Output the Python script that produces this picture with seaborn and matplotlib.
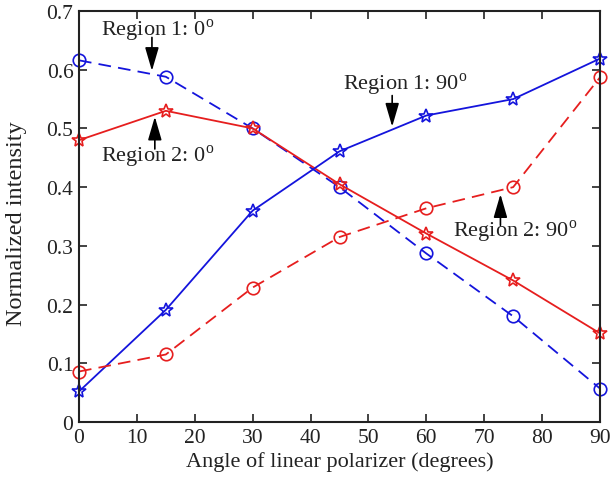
import matplotlib
matplotlib.use("Agg")
import matplotlib.pyplot as plt
import seaborn as sns
import pandas as pd

angles = [0, 15, 30, 45, 60, 75, 90]
region1_0 = [0.616, 0.588, 0.500, 0.400, 0.287, 0.180, 0.057]
region1_90 = [0.052, 0.191, 0.360, 0.461, 0.522, 0.550, 0.619]
region2_0 = [0.480, 0.530, 0.500, 0.405, 0.321, 0.241, 0.151]
region2_90 = [0.086, 0.115, 0.229, 0.315, 0.364, 0.400, 0.587]

xticks = [0, 10, 20, 30, 40, 50, 60, 70, 80, 90]
yticks = [0, 0.1, 0.2, 0.3, 0.4, 0.5, 0.6, 0.7]
ytick_labels = ["0", "0.1", "0.2", "0.3", "0.4", "0.5", "0.6", "0.7"]

sns.set_theme(style="white")
plt.rcParams["font.family"] = ["Liberation Serif", "DejaVu Serif"]
plt.rcParams["mathtext.fontset"] = "custom"
plt.rcParams["mathtext.rm"] = "Liberation Serif"

BLUE = "#1414dc"
RED = "#e61e1e"
TXT = "#222222"

fig = plt.figure(figsize=(6.12, 4.81), dpi=100)
ax = fig.add_axes([79/612, 1 - 423/481, (600 - 79)/612, (423 - 12)/481])

series = [
    (region1_0, BLUE, (7, 4), "o"),
    (region2_0, RED, "", "*"),
    (region1_90, BLUE, "", "*"),
    (region2_90, RED, (7, 4), "o"),
]
for vals, col, dash, mk in series:
    df = pd.DataFrame({"angle": angles, "value": vals})
    line_kws = dict(color=col, marker=mk, markersize=9 if mk == "o" else 10,
                    markerfacecolor="none", markeredgecolor=col,
                    markeredgewidth=1.2, linewidth=1.3, clip_on=False)
    sns.lineplot(data=df, x="angle", y="value", ax=ax, **line_kws)
    if dash:
        ax.lines[-1].set_dashes(dash)

ax.set_xlim(0, 90)
ax.set_ylim(0, 0.7)
ax.set_xticks(xticks)
ax.set_xticklabels([str(t) for t in xticks])
ax.set_yticks(yticks)
ax.set_yticklabels(ytick_labels)
ax.tick_params(direction="in", length=6, width=1.2, top=True, right=True,
               bottom=True, left=True, labelsize=15.5, colors=TXT, pad=4)
for s in ax.spines.values():
    s.set_color(TXT)
    s.set_linewidth(1.5)
ax.set_xlabel("Angle of linear polarizer (degrees)", fontsize=16, color=TXT)
ax.set_ylabel("Normalized intensity", fontsize=17.5, color=TXT)
ax.xaxis.set_label_coords(0.5, -0.07)
ax.yaxis.set_label_coords(-0.100, 0.485)

arrow = dict(arrowstyle="-|>,head_length=1.2,head_width=0.35", color="black", lw=1.2,
             shrinkA=0, shrinkB=0, mutation_scale=12)
fs = 16
deg = r"$^{\rm o}$"
ax.annotate("", xy=(12.6, 0.598), xytext=(12.6, 0.655), arrowprops=arrow)
ax.text(13.6, 0.668, "Region 1: 0" + deg, ha="center", va="center", fontsize=fs, color=TXT)
ax.annotate("", xy=(13.1, 0.520), xytext=(13.1, 0.465), arrowprops=arrow)
ax.text(13.6, 0.453, "Region 2: 0" + deg, ha="center", va="center", fontsize=fs, color=TXT)
ax.annotate("", xy=(54.1, 0.503), xytext=(54.1, 0.556), arrowprops=arrow)
ax.text(56.3, 0.576, "Region 1: 90" + deg, ha="center", va="center", fontsize=fs, color=TXT)
ax.annotate("", xy=(72.8, 0.388), xytext=(72.8, 0.335), arrowprops=arrow)
ax.text(75.3, 0.325, "Region 2: 90" + deg, ha="center", va="center", fontsize=fs, color=TXT)

fig.savefig("out.png", dpi=100)
